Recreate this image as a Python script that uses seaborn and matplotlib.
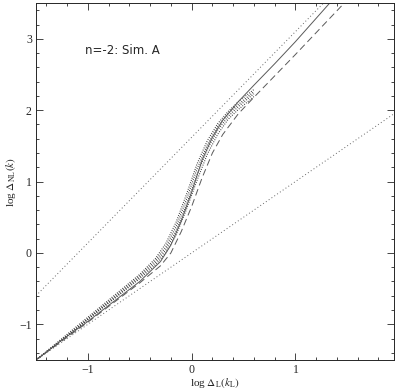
import pandas as pd
import seaborn as sns
import matplotlib.pyplot as plt
from matplotlib.ticker import MultipleLocator

# reference lines (linear regime and stable clustering slope)
linear_x = [-1.5, 1.95]
linear_y = [-1.5, 1.95]
stable_x = [-1.5, 1.27]
stable_y = [-0.6, 3.5]

# fitting formula (solid) and alternative fit (dashed)
fit_x = [-1.5, -1.25, -1.0, -0.75, -0.5, -0.3, -0.2, -0.1, 0.0, 0.1, 0.2, 0.3, 0.45, 0.6, 0.8, 1.0, 1.33]
fit_y = [-1.5, -1.22, -0.96, -0.68, -0.40, -0.12, 0.11, 0.45, 0.85, 1.30, 1.62, 1.86, 2.12, 2.35, 2.65, 2.96, 3.5]
alt_x = [-1.5, -1.0, -0.5, -0.3, -0.2, -0.1, 0.0, 0.1, 0.2, 0.3, 0.45, 0.6, 0.8, 1.0, 1.47]
alt_y = [-1.5, -0.97, -0.42, -0.18, 0.0, 0.3, 0.65, 1.05, 1.4, 1.66, 1.95, 2.18, 2.48, 2.78, 3.5]

# simulation outputs
sim_x = [-1.5, -1.3, -1.1, -0.9, -0.7, -0.5, -0.35, -0.25, -0.15, -0.05, 0.05, 0.15, 0.25, 0.35, 0.45, 0.6]
sim1_y = [-1.5, -1.26, -1.02, -0.78, -0.54, -0.30, -0.08, 0.13, 0.43, 0.82, 1.24, 1.57, 1.81, 1.98, 2.12, 2.29]
sim2_y = [-1.5, -1.27, -1.04, -0.80, -0.56, -0.32, -0.11, 0.08, 0.37, 0.75, 1.17, 1.51, 1.77, 1.95, 2.08, 2.26]
sim3_y = [-1.5, -1.28, -1.05, -0.81, -0.58, -0.34, -0.14, 0.04, 0.31, 0.68, 1.09, 1.45, 1.72, 1.91, 2.05, 2.23]
sim4_y = [-1.5, -1.28, -1.05, -0.82, -0.59, -0.36, -0.17, 0.00, 0.25, 0.61, 1.01, 1.38, 1.66, 1.87, 2.01, 2.19]

sns.set_style("ticks")
plt.rcParams['font.family'] = ['Liberation Serif', 'DejaVu Serif']
plt.rcParams['mathtext.fontset'] = 'stix'

fig = plt.figure(figsize=(4.0, 3.9), dpi=100)
ax = fig.add_axes([0.09, 0.077, 0.895, 0.915])

sns.lineplot(x=linear_x, y=linear_y, ax=ax, color='0.4', lw=0.7, ls=(0, (1, 2.5)))
sns.lineplot(x=stable_x, y=stable_y, ax=ax, color='0.4', lw=0.7, ls=(0, (1, 2.5)))
for ys in [sim1_y, sim2_y, sim3_y, sim4_y]:
    sns.lineplot(x=sim_x, y=ys, ax=ax, sort=False, estimator=None,
                 color='0.2', lw=0.8, ls=(0, (0.8, 1.3)))
sns.lineplot(x=fit_x, y=fit_y, ax=ax, sort=False, estimator=None, color='0.35', lw=0.7)
sns.lineplot(x=alt_x, y=alt_y, ax=ax, sort=False, estimator=None, color='0.35', lw=0.7,
             ls=(0, (7, 4)))

ax.text(-1.03, 2.83, 'n=-2: Sim. A', fontsize=8.5, family='DejaVu Sans', va='center',
        color='0.15')

ax.set_xlim(-1.5, 1.95)
ax.set_ylim(-1.5, 3.5)
ax.xaxis.set_major_locator(MultipleLocator(1))
ax.xaxis.set_minor_locator(MultipleLocator(0.2))
ax.yaxis.set_major_locator(MultipleLocator(1))
ax.yaxis.set_minor_locator(MultipleLocator(0.2))
ax.tick_params(which='both', direction='in', top=True, right=True, labelsize=8.5, width=0.6, pad=3)
ax.tick_params(which='major', length=5)
ax.tick_params(which='minor', length=2.5)
for s in ax.spines.values():
    s.set_linewidth(0.7)
ax.set_xticklabels([f'{v:g}'.replace('-', '\u2212') for v in ax.get_xticks()])
ax.set_yticklabels([f'{v:g}'.replace('-', '\u2212') for v in ax.get_yticks()])

ax.set_xlabel(r'log $\Delta_{\rm L}(k_{\rm L})$', fontsize=8, labelpad=0)
ax.set_ylabel(r'log $\Delta_{\rm NL}(k)$', fontsize=8, labelpad=1)

plt.savefig('out.png', dpi=100)
